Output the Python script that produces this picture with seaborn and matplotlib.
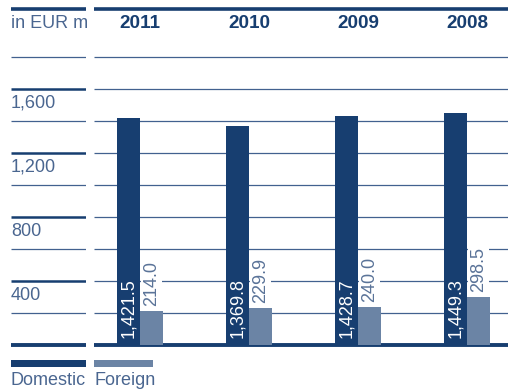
import matplotlib
matplotlib.use("Agg")
import matplotlib.pyplot as plt
from matplotlib.patches import Rectangle
import seaborn as sns
import pandas as pd

# Revenue by region, EUR m
years = ["2011", "2010", "2009", "2008"]
domestic = [1421.5, 1369.8, 1428.7, 1449.3]
foreign = [214.0, 229.9, 240.0, 298.5]
series = ["Domestic", "Foreign"]
tick_values = [400, 800, 1200, 1600]
tick_labels = ["400", "800", "1,200", "1,600"]
unit_label = "in EUR m"

NAVY = "#173e70"
STEEL = "#6b84a5"
LINE = "#42618f"
TEXT = "#4a6690"
FONT = "Liberation Sans"

df = pd.DataFrame({
    "year": years * 2,
    "value": domestic + foreign,
    "region": [series[0]] * len(years) + [series[1]] * len(years),
})

sns.set_theme(style="white")
plt.rcParams["font.family"] = [FONT, "DejaVu Sans"]
plt.rcParams["lines.solid_capstyle"] = "butt"

W, H = 508, 390
fig = plt.figure(figsize=(W / 100, H / 100), dpi=100)

ymax = 2100
bottom = (H - 345) / H
height = 336 / H

ax = fig.add_axes([94 / W, bottom, 414 / W, height])
axl = fig.add_axes([11 / W, bottom, 75 / W, height])

sns.barplot(data=df, x="year", y="value", hue="region", order=years,
            hue_order=series, palette=[NAVY, STEEL], width=0.422,
            saturation=1, legend=False, ax=ax, zorder=3, linewidth=0)

ax.set_xlim(-46 / 109, 3 + 41 / 109)
ax.set_ylim(0, ymax)
for a in (ax, axl):
    a.set_axis_off()
axl.set_xlim(0, 1)
axl.set_ylim(0, ymax)

# horizontal rules
for v in range(200, 2000, 200):
    ax.axhline(v, color=LINE, lw=0.9, zorder=1)
    if v in tick_values:
        axl.axhline(v, color=NAVY, lw=1.8, zorder=1)
    else:
        axl.axhline(v, color=LINE, lw=0.9, zorder=1)
for a in (ax, axl):
    a.axhline(ymax, color=NAVY, lw=2.6, zorder=2, clip_on=False)
    a.axhline(0, color=NAVY, lw=2.8, zorder=2, clip_on=False)

# unit and value labels in the left column
for v, lab in zip(tick_values + [ymax], tick_labels + [unit_label]):
    axl.annotate(lab, (0, v), xytext=(0, -4), textcoords="offset points",
                 ha="left", va="top", fontsize=13, color=TEXT)

# year headers
for i, y in enumerate(years):
    ax.annotate(y, (i, ymax), xytext=(0, -4.5), textcoords="offset points",
                ha="center", va="top", fontsize=13.6, fontweight="bold",
                color=NAVY)

# value labels
for bar, v in zip(ax.containers[0], domestic):
    ax.annotate(f"{v:,.1f}", (bar.get_x() + bar.get_width() / 2, 0),
                xytext=(0, 5), textcoords="offset points", rotation=90,
                ha="center", va="bottom", fontsize=13, color="white",
                zorder=5)
for bar, v in zip(ax.containers[1], foreign):
    ax.annotate(f"{v:,.1f}", (bar.get_x() + bar.get_width() / 2, v),
                xytext=(0, 3.5), textcoords="offset points", rotation=90,
                ha="center", va="bottom", fontsize=13, color="#5a7398",
                zorder=5,
                bbox=dict(facecolor="white", edgecolor="none", pad=1.2))

# legend
for (x0, x1), name, col in zip([(11, 86), (94, 153)], series, [NAVY, STEEL]):
    fig.add_artist(Rectangle((x0 / W, (H - 367) / H), (x1 - x0) / W, 7 / H,
                             transform=fig.transFigure, color=col, lw=0))
    fig.text(x0 / W, (H - 372) / H, name, ha="left", va="top",
             fontsize=13, color=TEXT)

fig.savefig("out.png", dpi=100)
